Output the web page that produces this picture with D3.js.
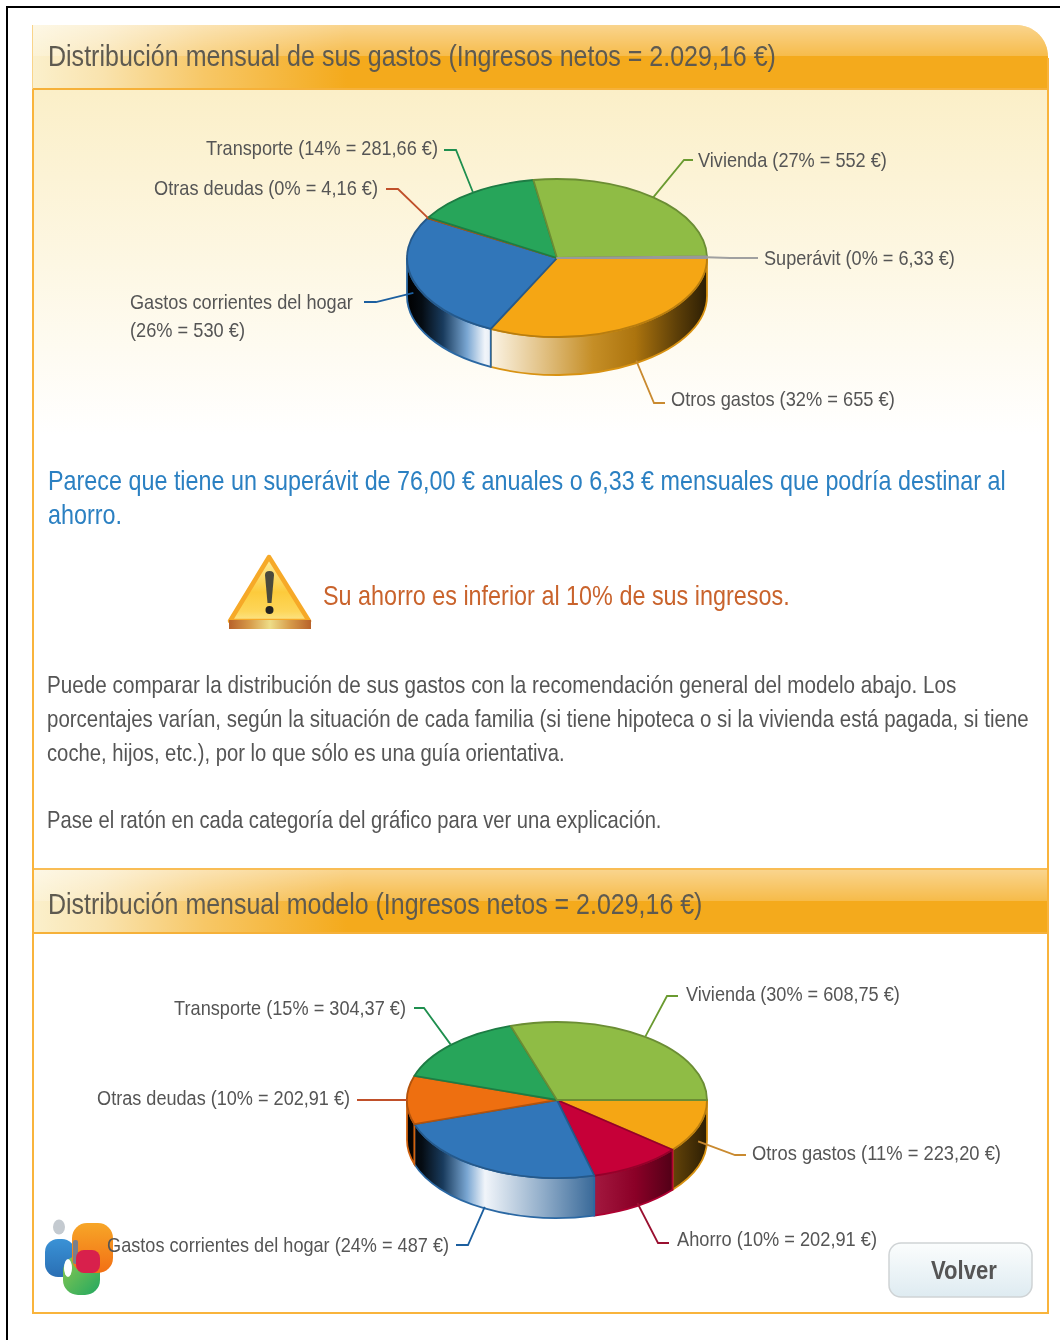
<!DOCTYPE html>
<html>
<head>
<meta charset="utf-8">
<title>Distribución mensual</title>
<script src="https://d3js.org/d3.v7.min.js"></script>
<style>
	html, body { margin: 0; padding: 0; background: #fff; }
	svg { display: block; filter: blur(0.55px); }
	text { font-family: "Liberation Sans", Arial, sans-serif; }
</style>
</head>
<body>
<div id="chart"></div>
<script>
// colours per category, same for both pies
var catColors = {
	otros: "#f5a614", gastos: "#3176b9", deudas: "#ee6f10", transporte: "#27a55a",
	vivienda: "#8fbc45", superavit: "#aaaaaa", ahorro: "#c60038"
};

// first pie: sus gastos
var cats1   = ["otros", "gastos", "deudas", "transporte", "vivienda", "superavit"];
var values1 = [655, 530, 4.16, 281.66, 552, 6.33];

// second pie: modelo
var cats2   = ["otros", "ahorro", "gastos", "deudas", "transporte", "vivienda"];
var values2 = [223.20, 202.91, 487, 202.91, 304.37, 608.75];

var labels1 = {
	otros: ["Otros gastos (32% = 655 €)"],
	gastos: ["Gastos corrientes del hogar", "(26% = 530 €)"],
	deudas: ["Otras deudas (0% = 4,16 €)"],
	transporte: ["Transporte (14% = 281,66 €)"],
	vivienda: ["Vivienda (27% = 552 €)"],
	superavit: ["Superávit (0% = 6,33 €)"]
};
var labels2 = {
	otros: ["Otros gastos (11% = 223,20 €)"],
	ahorro: ["Ahorro (10% = 202,91 €)"],
	gastos: ["Gastos corrientes del hogar (24% = 487 €)"],
	deudas: ["Otras deudas (10% = 202,91 €)"],
	transporte: ["Transporte (15% = 304,37 €)"],
	vivienda: ["Vivienda (30% = 608,75 €)"]
};

// where the label text and leader elbow sit: [textX, textY, textWidth, anchor, elbowX, elbowY, endX]
var layout1 = {
	otros: [671, 399, 224, "start", 654, 403, 665],
	gastos: [130, 302, 223, "start", 376, 302, 364, 115],
	deudas: [378, 188, 224, "end", 398, 189, 386],
	transporte: [438, 148, 232, "end", 456, 150, 444],
	vivienda: [698, 160, 189, "start", 684, 160, 693],
	superavit: [764, 258, 191, "start", 730, 258, 758]
};
var layout2 = {
	otros: [752, 1153, 249, "start", 735, 1155, 746],
	ahorro: [677, 1239, 200, "start", 658, 1243, 669],
	gastos: [449, 1245, 342, "end", 468, 1245, 456],
	deudas: [350, 1098, 253, "end", 385, 1100, 357],
	transporte: [406, 1008, 232, "end", 424, 1008, 414],
	vivienda: [686, 994, 214, "start", 667, 996, 678]
};
var leaderColors = {
	otros: "#c98a30", gastos: "#1c5f9f", deudas: "#c0502a", transporte: "#1f8f4f",
	vivienda: "#6a9a30", superavit: "#a0a0a0", ahorro: "#9a1030"
};

// paragraphs: text, x, y centre, width
var bodyLines = [
	["Puede comparar la distribución de sus gastos con la recomendación general del modelo abajo. Los", 47, 685, 910],
	["porcentajes varían, según la situación de cada familia (si tiene hipoteca o si la vivienda está pagada, si tiene", 47, 719, 982],
	["coche, hijos, etc.), por lo que sólo es una guía orientativa.", 47, 753, 518],
	["Pase el ratón en cada categoría del gráfico para ver una explicación.", 47, 820, 615]
];
var blueLines = [
	["Parece que tiene un superávit de 76,00 € anuales o 6,33 € mensuales que podría destinar al", 48, 481, 958],
	["ahorro.", 48, 515, 74]
];

// wall lighting across the pie width: tone -1 black ... 1 white, plus a grey-down amount
var shadeOffsets = [0, 0.05, 0.12, 0.2, 0.26, 0.45, 0.62, 0.76, 0.9, 1];
var shadeTones   = [-1, -0.9, -0.5, 0.35, 0.93, 0.55, 0.12, -0.3, -0.62, -0.82];
var shadeDims    = [0, 0, 0, 0, 0, 0.1, 0.2, 0, 0, 0];

var width = 1060, height = 1340;
var svg = d3.select("#chart").append("svg").attr("width", width).attr("height", height);
var defs = svg.append("defs");

function addGradient(id, x1, y1, x2, y2, stops) {
	var g = defs.append("linearGradient").attr("id", id)
		.attr("x1", x1).attr("y1", y1).attr("x2", x2).attr("y2", y2);
	stops.forEach(function (s) {
		g.append("stop").attr("offset", s[0]).attr("stop-color", s[1]).attr("stop-opacity", s[2] === undefined ? 1 : s[2]);
	});
}

function tone(base, t) {
	return t >= 0 ? d3.interpolateRgb(base, "#fff")(t) : d3.interpolateRgb(base, "#000")(-t);
}

// text squeezed horizontally to the width it has in the picture
function fitText(parent, str, x, y, w, anchor, size, fill, weight) {
	var t = parent.append("text")
		.attr("text-anchor", anchor)
		.attr("font-size", size)
		.attr("font-weight", weight || "normal")
		.attr("fill", fill)
		.text(str);
	var natural = t.node().getComputedTextLength();
	t.attr("transform", "translate(" + x + "," + (y + size * 0.35) + ") scale(" + (w / natural) + ",1)");
	return t;
}

// page frame lines
svg.append("rect").attr("x", 0).attr("y", 0).attr("width", width).attr("height", height).attr("fill", "#fff");
svg.append("rect").attr("x", 6).attr("y", 6).attr("width", 1054).attr("height", 2).attr("fill", "#000");
svg.append("rect").attr("x", 6).attr("y", 6).attr("width", 2).attr("height", 1334).attr("fill", "#000");

// soft cream background under first header
addGradient("creamBg", 0, 0, 0, 1, [[0, "#fbefc8"], [0.5, "#fdf7e3"], [1, "#ffffff"]]);
svg.append("rect").attr("x", 33).attr("y", 90).attr("width", 1014).attr("height", 345).attr("fill", "url(#creamBg)");

// headers
addGradient("headH", 0, 0, 1, 0, [[0, "#fbf0cc"], [0.07, "#f9e3ae"], [0.17, "#f7c766"], [0.31, "#f4aa1c"], [1, "#f4aa1c"]]);
addGradient("headSheen", 0, 0, 0, 1, [[0, "#fff", 0.5], [1, "#fff", 0.2]]);

function headerPath(y, h, r) {
	var p = d3.path();
	p.moveTo(32, y);
	p.lineTo(1048 - r, y);
	if (r) p.bezierCurveTo(1034, y, 1048, y + 14, 1048, y + r);
	p.lineTo(1048, y + h);
	p.lineTo(32, y + h);
	p.closePath();
	return p.toString();
}

function drawHeader(y, h, r, title, titleY, titleW) {
	svg.append("path").attr("d", headerPath(y, h, r)).attr("fill", "url(#headH)");
	svg.append("path").attr("d", headerPath(y, 31, r)).attr("fill", "url(#headSheen)");
	svg.append("rect").attr("x", 33).attr("y", y + h - 1).attr("width", 1014).attr("height", 2).attr("fill", "#f6b139");
	fitText(svg, title, 48, titleY, titleW, "start", 29, "#5e5a50");
}

drawHeader(25, 64, 32, "Distribución mensual de sus gastos (Ingresos netos = 2.029,16 €)", 56, 728);
drawHeader(870, 63, 0, "Distribución mensual modelo (Ingresos netos = 2.029,16 €)", 904, 655);
svg.append("rect").attr("x", 33).attr("y", 868).attr("width", 1014).attr("height", 2).attr("fill", "#f9bd55");

// panel border
svg.append("path")
	.attr("d", "M33,89 V1313 H1048 V58")
	.attr("fill", "none").attr("stroke", "#f9b43c").attr("stroke-width", 2);
svg.append("rect").attr("x", 32).attr("y", 25).attr("width", 1).attr("height", 64).attr("fill", "#f9d48a");

// logo goes under the labels
var logo = svg.append("g").attr("class", "logo");
addGradient("logoBlue", 0, 0, 0, 1, [[0, "#3a92d6"], [1, "#2a6fb4"]]);
addGradient("logoOrange", 0, 0, 0, 1, [[0, "#f7a628"], [1, "#f26f14"]]);
addGradient("logoGreen", 0, 0, 1, 1, [[0, "#8cc850"], [1, "#22a860"]]);
logo.append("ellipse").attr("cx", 59).attr("cy", 1227).attr("rx", 6).attr("ry", 7.5).attr("fill", "#c4cad0");
logo.append("rect").attr("x", 45).attr("y", 1239).attr("width", 30).attr("height", 38).attr("rx", 13).attr("fill", "url(#logoBlue)");
logo.append("rect").attr("x", 63).attr("y", 1256).attr("width", 37).attr("height", 39).attr("rx", 15).attr("fill", "url(#logoGreen)");
logo.append("ellipse").attr("cx", 68).attr("cy", 1268).attr("rx", 4).attr("ry", 9).attr("fill", "#fff");
logo.append("rect").attr("x", 72).attr("y", 1223).attr("width", 41).attr("height", 50).attr("rx", 15).attr("fill", "url(#logoOrange)");
logo.append("rect").attr("x", 73).attr("y", 1240).attr("width", 5).attr("height", 24).attr("rx", 2).attr("fill", "#7a7f8a");
logo.append("rect").attr("x", 76).attr("y", 1250).attr("width", 24).attr("height", 23).attr("rx", 8).attr("fill", "#d8204c");

// 3d pie
function drawPie(id, cats, values, labels, layout, cx, cy, rx, ry, depth) {
	var g = svg.append("g").attr("class", "pie-" + id);
	var xs = d3.scaleLinear().domain([-1, 1]).range([cx - rx, cx + rx]);
	var ys = d3.scaleLinear().domain([-1, 1]).range([cy - ry, cy + ry]);

	var pie = d3.pie().sort(null).startAngle(Math.PI / 2).endAngle(Math.PI * 2.5);
	var arcs = pie(values);

	arcs.forEach(function (a, i) { a.cat = cats[i]; });

	// walls, only the front half of the ellipse
	var walls = arcs.filter(function (a) {
		return a.startAngle < Math.PI * 1.5;
	});
	walls.forEach(function (a) {
		var base = catColors[a.cat];
		var gid = "wall-" + id + "-" + a.cat;
		addGradient(gid, cx - rx, 0, cx + rx, 0, shadeOffsets.map(function (o, k) {
			return [o, d3.interpolateRgb(tone(base, shadeTones[k]), "#000")(shadeDims[k])];
		}));
		d3.select("#" + gid).attr("gradientUnits", "userSpaceOnUse");

		var a0 = a.startAngle, a1 = Math.min(a.endAngle, Math.PI * 1.5);
		var x0 = xs(Math.sin(a0)), y0 = ys(-Math.cos(a0));
		var x1 = xs(Math.sin(a1)), y1 = ys(-Math.cos(a1));
		var d = "M" + x0 + "," + y0
			+ " A" + rx + "," + ry + " 0 0 1 " + x1 + "," + y1
			+ " L" + x1 + "," + (y1 + depth)
			+ " A" + rx + "," + ry + " 0 0 0 " + x0 + "," + (y0 + depth) + " Z";
		g.append("path")
			.attr("d", d)
			.attr("fill", "url(#" + gid + ")")
			.attr("stroke", tone(base, -0.12))
			.attr("stroke-width", 1.8);
	});

	// top face, circle arc squeezed into the ellipse
	var arc = d3.arc().innerRadius(0).outerRadius(rx);
	g.append("g")
		.attr("transform", "translate(" + cx + "," + cy + ") scale(1," + (ry / rx) + ")")
		.selectAll("path")
		.data(arcs)
		.join("path")
		.attr("d", arc)
		.attr("fill", function (a) { return catColors[a.cat]; })
		.attr("stroke", function (a) { return a.cat === "superavit" ? "#999" : tone(catColors[a.cat], -0.25); })
		.attr("stroke-width", 1.8)
		.attr("vector-effect", "non-scaling-stroke")
		.attr("stroke-linejoin", "round");

	// leaders and labels
	arcs.forEach(function (a) {
		var lay = layout[a.cat];
		var mid = (a.startAngle + a.endAngle) / 2;
		var sinT = -Math.cos(mid);
		var sx = xs(Math.sin(mid));
		var sy = ys(sinT) + (sinT > 0 ? depth * Math.min(1, sinT * 1.1) : 0);
		var line = d3.line();
		g.append("path")
			.attr("d", line([[sx, sy], [lay[4], lay[5]], [lay[6], lay[5]]]))
			.attr("fill", "none")
			.attr("stroke", leaderColors[a.cat])
			.attr("stroke-width", 1.8);
		labels[a.cat].forEach(function (s, k) {
			fitText(g, s, lay[0], lay[1] + k * 28, k === 0 ? lay[2] : lay[7], lay[3], 20, "#555");
		});
	});
}

drawPie("a", cats1, values1, labels1, layout1, 557, 258, 150, 79, 38);
drawPie("b", cats2, values2, labels2, layout2, 557, 1100, 150, 78, 40);

// texts between the two pies
blueLines.forEach(function (l) {
	fitText(svg, l[0], l[1], l[2], l[3], "start", 27, "#2b80c2");
});
bodyLines.forEach(function (l) {
	fitText(svg, l[0], l[1], l[2], l[3], "start", 24, "#555");
});
fitText(svg, "Su ahorro es inferior al 10% de sus ingresos.", 323, 596, 467, "start", 27, "#c9632c");

// warning icon
var warn = svg.append("g").attr("class", "warning");
addGradient("warnFill", 0, 0, 0, 1, [[0, "#fdeea0"], [0.55, "#fccb3c"], [0.85, "#fdd65a"], [1, "#fbe58a"]]);
addGradient("warnBase", 0, 0, 1, 0, [[0, "#b8622a"], [0.25, "#d69a4a"], [0.5, "#eedd88"], [0.75, "#d69a4a"], [1, "#b8622a"]]);
warn.append("path").attr("d", "M269,557 L309,621 H230 Z")
	.attr("fill", "url(#warnFill)").attr("stroke", "#f6a928").attr("stroke-width", 4.5).attr("stroke-linejoin", "round");
warn.append("rect").attr("x", 229).attr("y", 620).attr("width", 82).attr("height", 9).attr("fill", "url(#warnBase)");
warn.append("path").attr("d", "M265,575 Q265,571 269.500,571 Q274,571 274,575 L271.500,603 H267.500 Z").attr("fill", "#4a4a3c");
warn.append("circle").attr("cx", 269.500).attr("cy", 610).attr("r", 4).attr("fill", "#222");

// button
addGradient("btnFill", 0, 0, 0, 1, [[0, "#fbfdfd"], [1, "#deebf1"]]);
svg.append("rect").attr("x", 889).attr("y", 1243).attr("width", 143).attr("height", 54).attr("rx", 12)
	.attr("fill", "url(#btnFill)").attr("stroke", "#cfd3d5").attr("stroke-width", 1.5);
fitText(svg, "Volver", 931, 1270, 66, "start", 26, "#555", "bold");
</script>
</body>
</html>
